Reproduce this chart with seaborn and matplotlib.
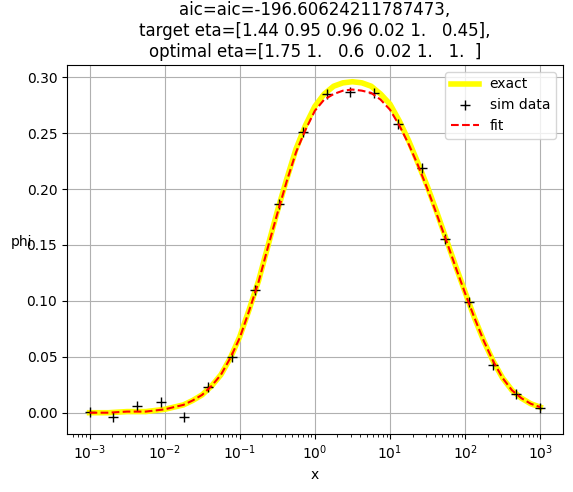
import numpy as np
import pandas as pd
import matplotlib
matplotlib.use("Agg")
import matplotlib.pyplot as plt
import seaborn as sns

# smooth curves (quarter decade in the far left tail, eighth decade elsewhere)
curve_x = [0.001, 0.00178, 0.00316, 0.00562, 0.01, 0.0133, 0.0178, 0.0237,
           0.0316, 0.0422, 0.0562, 0.075, 0.1, 0.133, 0.178, 0.237, 0.316,
           0.422, 0.562, 0.75, 1.0, 1.33, 1.78, 2.37, 3.16, 4.22, 5.62, 7.5,
           10.0, 13.3, 17.8, 23.7, 31.6, 42.2, 56.2, 75.0, 100.0, 133.0,
           178.0, 237.0, 316.0, 422.0, 562.0, 750.0, 1000.0]
exact_phi = [0.000, 0.000, 0.001, 0.001, 0.003, 0.005, 0.007, 0.011,
             0.016, 0.024, 0.034, 0.049, 0.068, 0.092, 0.118, 0.149, 0.180,
             0.209, 0.236, 0.257, 0.274, 0.285, 0.292, 0.295, 0.296, 0.295,
             0.292, 0.285, 0.276, 0.261, 0.243, 0.223, 0.202, 0.179, 0.155,
             0.131, 0.108, 0.085, 0.064, 0.046, 0.031, 0.020, 0.013, 0.008,
             0.005]
fit_phi = [0.000, 0.000, 0.001, 0.001, 0.003, 0.005, 0.007, 0.011,
           0.016, 0.024, 0.034, 0.049, 0.067, 0.091, 0.117, 0.148, 0.178,
           0.207, 0.233, 0.253, 0.270, 0.280, 0.285, 0.288, 0.289, 0.288,
           0.286, 0.280, 0.271, 0.257, 0.240, 0.221, 0.200, 0.177, 0.154,
           0.130, 0.107, 0.085, 0.064, 0.046, 0.031, 0.020, 0.013, 0.008,
           0.005]

# simulated data
sim_x = [0.001, 0.00207, 0.00428, 0.00886, 0.0183, 0.0379, 0.0785, 0.162, 0.336,
         0.695, 1.44, 2.98, 6.16, 12.7, 26.4, 54.6, 113.0, 234.0, 483.0, 1000.0]
sim_phi = [0.001, -0.004, 0.006, 0.010, -0.004, 0.023, 0.050, 0.110, 0.187,
           0.251, 0.285, 0.287, 0.286, 0.258, 0.219, 0.155, 0.099, 0.043,
           0.017, 0.0045]

title = ("aic=aic=-196.60624211787473,\n"
         "target eta=[1.44 0.95 0.96 0.02 1.   0.45],\n"
         "optimal eta=[1.75 1.   0.6  0.02 1.   1.  ]")

curves = pd.DataFrame({"x": curve_x, "exact": exact_phi, "fit": fit_phi})
sim = pd.DataFrame({"x": sim_x, "phi": sim_phi})

fig, ax = plt.subplots(figsize=(5.73, 4.92), dpi=100)
fig.subplots_adjust(left=0.117, right=0.982, bottom=0.118, top=0.868)

sns.lineplot(data=curves, x="x", y="exact", color="yellow", linewidth=4,
             label="exact", ax=ax)
ax.plot(sim["x"], sim["phi"], "+", color="black", markersize=7, label="sim data")
sns.lineplot(data=curves, x="x", y="fit", color="red", linestyle="--",
             linewidth=1.5, label="fit", ax=ax)

ax.set_xscale("log")
ax.set_ylim(-0.019, 0.311)
ax.set_yticks([0.0, 0.05, 0.10, 0.15, 0.20, 0.25, 0.30])
ax.yaxis.set_major_formatter(matplotlib.ticker.FormatStrFormatter("%.2f"))
ax.grid(True)
ax.set_xlabel("x")
ax.set_ylabel("phi", rotation=0)
ax.set_title(title)
ax.legend(loc="upper right")

fig.savefig("out.png", dpi=100)
